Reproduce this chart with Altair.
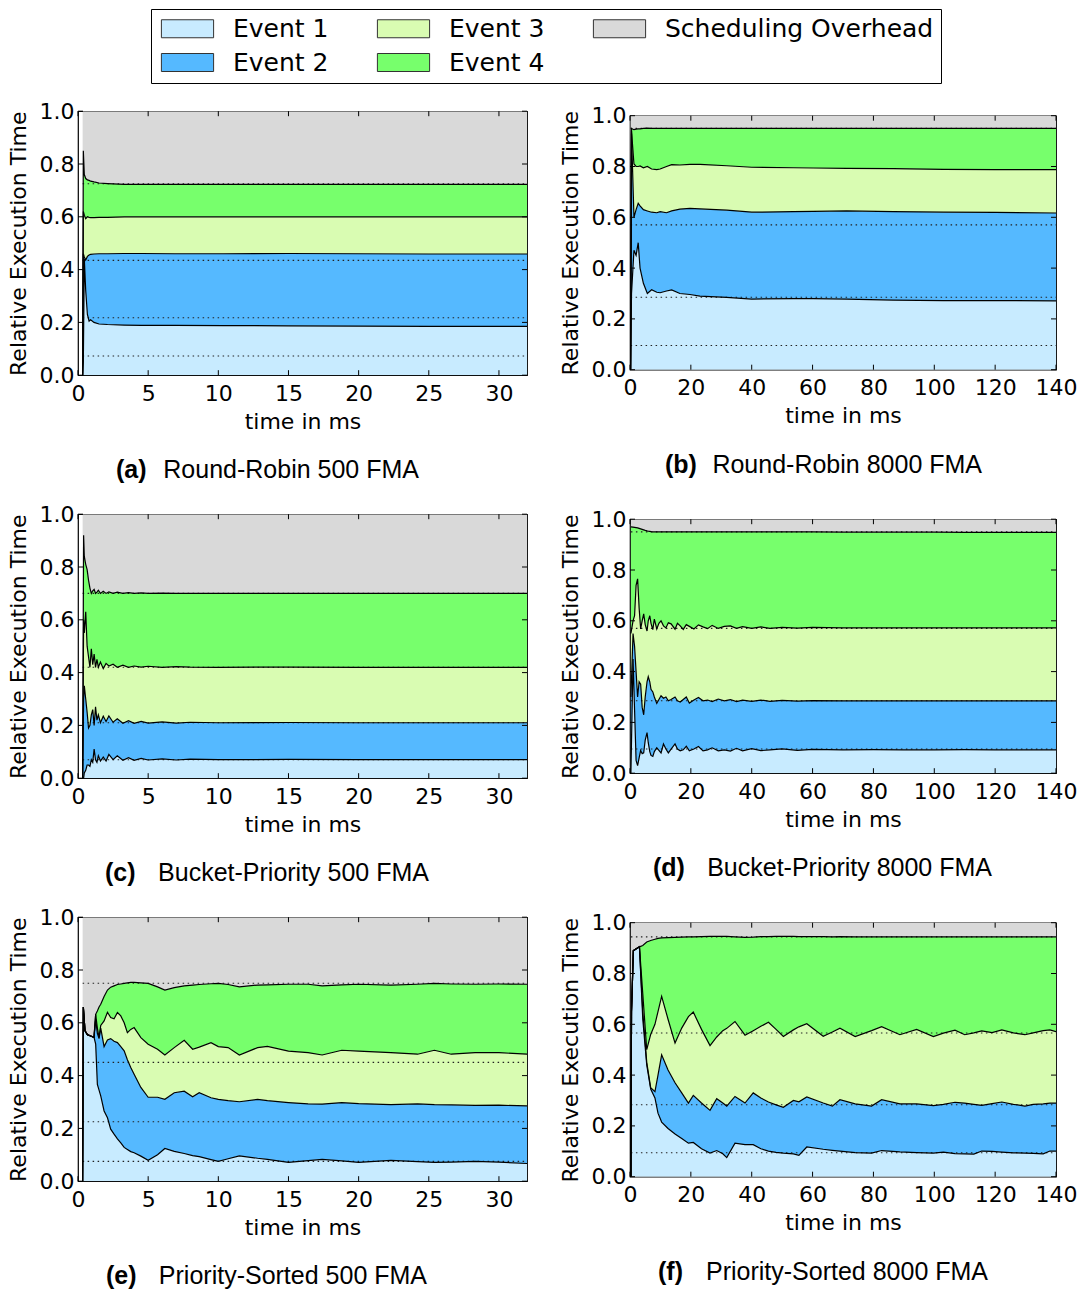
import altair as alt
import pandas as pd

# ---------------------------------------------------------------- layers
LAYERS = ["Event 1", "Event 2", "Event 3", "Event 4", "Scheduling Overhead"]
LAYER_COLORS = ["#C8EBFF", "#55B9FF", "#D9FCB2", "#77FF6C", "#D9D9D9"]

Y_TICKS = [0.0, 0.2, 0.4, 0.6, 0.8, 1.0]
X_TICKS_500 = [0, 5, 10, 15, 20, 25, 30]
X_TICKS_8000 = [0, 20, 40, 60, 80, 100, 120, 140]

# ------------------------------------------------ (a) Round-Robin 500 FMA
# cumulative upper edges of Event 1..4
A_T = [0.33, 0.38, 0.45, 0.55, 0.67, 0.79, 0.9, 1.14, 1.5, 2.1, 3.3, 4.5, 6.9, 10.4, 15, 20, 25, 32]
A_B1 = [0.0, 0.05, 0.44, 0.32, 0.23, 0.205, 0.21, 0.2, 0.194, 0.192, 0.19, 0.189, 0.189, 0.188, 0.187, 0.186, 0.185, 0.185]
A_B2 = [0.0, 0.46, 0.448, 0.436, 0.45, 0.455, 0.458, 0.459, 0.46, 0.46, 0.461, 0.461, 0.46, 0.46, 0.461, 0.46, 0.459, 0.459]
A_B3 = [0.0, 0.62, 0.606, 0.593, 0.6, 0.598, 0.597, 0.597, 0.598, 0.598, 0.6, 0.6, 0.6, 0.6, 0.6, 0.6, 0.6, 0.6]
A_B4 = [0.0, 0.85, 0.76, 0.745, 0.74, 0.738, 0.735, 0.732, 0.728, 0.726, 0.723, 0.723, 0.723, 0.723, 0.723, 0.723, 0.723, 0.723]
A_REF = [0.0725, 0.2175, 0.435, 0.725]

# ----------------------------------------------- (b) Round-Robin 8000 FMA
B_T = [0.2, 0.5, 1.3, 2.0, 2.7, 3.3, 4.4, 5.7, 7.1, 8.8, 9.9, 12, 13.7, 16.4, 19.7, 23, 31.8, 40, 53.7, 60.2, 71.2, 86.5, 103, 120, 140]
B_B1 = [0.0, 0.3, 0.47, 0.45, 0.50, 0.40, 0.34, 0.30, 0.315, 0.305, 0.303, 0.31, 0.314, 0.30, 0.296, 0.29, 0.285, 0.278, 0.28, 0.28, 0.278, 0.274, 0.272, 0.272, 0.271]
B_B2 = [0.0, 0.93, 0.60, 0.63, 0.655, 0.645, 0.63, 0.625, 0.62, 0.618, 0.622, 0.618, 0.625, 0.632, 0.635, 0.633, 0.628, 0.62, 0.622, 0.623, 0.625, 0.622, 0.62, 0.619, 0.617]
B_B3 = [0.0, 0.94, 0.81, 0.80, 0.80, 0.802, 0.795, 0.80, 0.79, 0.788, 0.79, 0.80, 0.807, 0.806, 0.808, 0.808, 0.803, 0.797, 0.795, 0.794, 0.793, 0.792, 0.789, 0.788, 0.788]
B_B4 = [0.0, 0.95, 0.945, 0.947, 0.948, 0.948, 0.95, 0.951, 0.95, 0.95, 0.95, 0.95, 0.95, 0.95, 0.95, 0.95, 0.95, 0.95, 0.95, 0.95, 0.95, 0.95, 0.95, 0.95, 0.95]
B_REF = [0.095, 0.285, 0.57, 0.95]

# --------------------------------------------- (c) Bucket-Priority 500 FMA
C_T = [0.33, 0.4, 0.45, 0.55, 0.65, 0.75, 0.85, 0.95, 1.05, 1.15, 1.25, 1.35, 1.45, 1.6, 1.8, 2.0,
       2.2, 2.5, 2.8, 3.2, 3.6, 4.0, 4.5, 5, 6, 7, 8, 10, 15, 20, 25, 32]
C_B1 = [0.0, 0.0, 0.02, 0.03, 0.05, 0.05, 0.045, 0.07, 0.06, 0.11, 0.07, 0.06, 0.085, 0.065, 0.08, 0.065,
        0.09, 0.07, 0.085, 0.068, 0.078, 0.068, 0.075, 0.069, 0.073, 0.069, 0.072, 0.07, 0.071, 0.07, 0.07, 0.07]
C_B2 = [0.0, 0.3, 0.35, 0.30, 0.25, 0.19, 0.2, 0.24, 0.26, 0.2, 0.27, 0.22, 0.24, 0.21, 0.235, 0.215,
        0.236, 0.212, 0.225, 0.208, 0.218, 0.208, 0.215, 0.209, 0.213, 0.209, 0.212, 0.21, 0.211, 0.21, 0.21, 0.21]
C_B3 = [0.0, 0.6, 0.55, 0.63, 0.50, 0.46, 0.42, 0.49, 0.43, 0.47, 0.42, 0.45, 0.42, 0.44, 0.415, 0.435,
        0.425, 0.432, 0.42, 0.428, 0.42, 0.425, 0.421, 0.424, 0.42, 0.423, 0.421, 0.42, 0.421, 0.42, 0.42, 0.42]
C_B4 = [0.0, 0.92, 0.84, 0.81, 0.79, 0.75, 0.72, 0.70, 0.71, 0.715, 0.70, 0.705, 0.712, 0.70, 0.708, 0.70,
        0.706, 0.70, 0.705, 0.70, 0.703, 0.70, 0.702, 0.70, 0.701, 0.70, 0.70, 0.70, 0.70, 0.70, 0.70, 0.70]
C_REF = [0.07, 0.21, 0.42, 0.70]

# -------------------------------------------- (d) Bucket-Priority 8000 FMA
D_T = [0.3, 1.0, 1.5, 2.0, 2.5, 3.0, 3.5, 4.0, 4.5, 5.0,
       5.6, 6.0, 6.5, 6.9, 7.5, 8.0, 8.8, 9.5, 10.2, 11.0,
       11.8, 12.6, 13.5, 14.8, 15.6, 16.5, 17.5, 18.5, 19.5, 21,
       22.5, 24, 25.5, 27, 29, 31, 33, 35, 37, 40,
       43, 46, 50, 55, 60, 70, 80, 90, 100, 110,
       120, 130, 140]
D_B1 = [0.0, 0.45, 0.25, 0.05, 0.03, 0.06, 0.09, 0.077, 0.08, 0.13,
        0.16, 0.12, 0.085, 0.07, 0.066, 0.085, 0.10, 0.09, 0.08, 0.115,
        0.095, 0.08, 0.095, 0.115, 0.095, 0.088, 0.092, 0.106, 0.088, 0.095,
        0.105, 0.088, 0.092, 0.1, 0.088, 0.092, 0.087, 0.098, 0.088, 0.097,
        0.089, 0.092, 0.096, 0.09, 0.094, 0.092, 0.093, 0.092, 0.092, 0.093,
        0.092, 0.092, 0.092]
D_B2 = [0.3, 0.55, 0.5, 0.40, 0.30, 0.36, 0.35, 0.26, 0.23, 0.30,
        0.36, 0.38, 0.36, 0.33, 0.32, 0.30, 0.275, 0.29, 0.305, 0.295,
        0.30, 0.285, 0.29, 0.30, 0.285, 0.28, 0.29, 0.30, 0.276, 0.288,
        0.298, 0.285, 0.288, 0.282, 0.292, 0.285, 0.29, 0.282, 0.288, 0.283,
        0.288, 0.283, 0.287, 0.284, 0.286, 0.285, 0.285, 0.285, 0.285, 0.285,
        0.285, 0.285, 0.285]
D_B3 = [0.55, 0.6, 0.62, 0.74, 0.765, 0.65, 0.568, 0.60, 0.627, 0.585,
        0.56, 0.6, 0.62, 0.59, 0.565, 0.607, 0.568, 0.59, 0.6, 0.58,
        0.572, 0.592, 0.588, 0.567, 0.59, 0.58, 0.566, 0.585, 0.578, 0.568,
        0.584, 0.576, 0.569, 0.582, 0.57, 0.578, 0.58, 0.57, 0.577, 0.57,
        0.576, 0.57, 0.574, 0.571, 0.574, 0.572, 0.572, 0.572, 0.572, 0.572,
        0.572, 0.572, 0.572]
D_B4 = [0.97, 0.969, 0.968, 0.967, 0.966, 0.964, 0.962, 0.96, 0.958, 0.956,
        0.954, 0.953, 0.952, 0.951, 0.95, 0.95, 0.95, 0.95, 0.95, 0.95,
        0.95, 0.95, 0.95, 0.95, 0.95, 0.95, 0.95, 0.95, 0.95, 0.95,
        0.95, 0.95, 0.95, 0.95, 0.95, 0.95, 0.95, 0.95, 0.95, 0.95,
        0.95, 0.95, 0.95, 0.95, 0.95, 0.949, 0.949, 0.949, 0.949, 0.948,
        0.948, 0.948, 0.948]
D_REF = [0.095, 0.285, 0.57, 0.95]

# ---------------------------------------------- (e) Priority-Sorted 500 FMA
E_T = [0.33, 0.38, 0.5, 0.67, 0.9, 1.14, 1.26, 1.38, 1.5, 1.62,
       1.86, 2.1, 2.33, 2.57, 2.81, 3.05, 3.29, 3.52, 3.76, 4.0,
       4.48, 5.0, 5.67, 6.19, 6.86, 7.57, 8.17, 8.64, 9.48, 10.0,
       10.7, 11.5, 12.8, 13.5, 15, 16.4, 17.4, 18.8, 20, 22.3,
       24.2, 25.4, 26.6, 28.3, 30, 32]
E_B1 = [0.0, 0.66, 0.57, 0.555, 0.55, 0.545, 0.519, 0.367, 0.345, 0.323,
        0.266, 0.24, 0.197, 0.178, 0.16, 0.145, 0.128, 0.12, 0.112, 0.108,
        0.095, 0.079, 0.1, 0.124, 0.113, 0.105, 0.097, 0.093, 0.082, 0.075,
        0.085, 0.096, 0.087, 0.083, 0.071, 0.078, 0.083, 0.077, 0.071, 0.079,
        0.074, 0.071, 0.072, 0.075, 0.072, 0.067]
E_B2 = [0.0, 0.66, 0.57, 0.555, 0.55, 0.545, 0.613, 0.56, 0.54, 0.58,
        0.51, 0.535, 0.54, 0.53, 0.525, 0.51, 0.494, 0.46, 0.431, 0.405,
        0.355, 0.318, 0.318, 0.31, 0.335, 0.341, 0.32, 0.335, 0.316, 0.31,
        0.305, 0.301, 0.31, 0.305, 0.298, 0.293, 0.292, 0.298, 0.294, 0.29,
        0.293, 0.29, 0.289, 0.287, 0.288, 0.285]
E_B3 = [0.0, 0.66, 0.57, 0.555, 0.55, 0.545, 0.632, 0.58, 0.545, 0.59,
        0.607, 0.64, 0.62, 0.615, 0.639, 0.626, 0.60, 0.563, 0.575, 0.582,
        0.544, 0.519, 0.5, 0.478, 0.506, 0.534, 0.5, 0.508, 0.525, 0.51,
        0.506, 0.478, 0.506, 0.511, 0.493, 0.487, 0.478, 0.496, 0.493, 0.487,
        0.481, 0.496, 0.481, 0.487, 0.487, 0.481]
E_B4 = [0.0, 0.66, 0.57, 0.555, 0.55, 0.545, 0.632, 0.645, 0.66, 0.67,
        0.70, 0.724, 0.735, 0.74, 0.745, 0.747, 0.749, 0.751, 0.753, 0.753,
        0.751, 0.749, 0.736, 0.724, 0.733, 0.74, 0.743, 0.745, 0.748, 0.749,
        0.745, 0.736, 0.743, 0.744, 0.746, 0.746, 0.74, 0.744, 0.746, 0.743,
        0.746, 0.749, 0.747, 0.746, 0.747, 0.746]
E_REF = [0.075, 0.225, 0.45, 0.75]

# --------------------------------------------- (f) Priority-Sorted 8000 FMA
F_T = [0.3, 0.5, 1.1, 2.2, 3.1, 4.2, 5.5, 6.8, 8.2, 9.2,
       10.4, 12.5, 14.8, 17, 19.2, 20.8, 23.5, 26.3, 28.5, 30.5,
       31.8, 34.5, 37.8, 40.5, 43, 45.5, 48, 50.4, 53.7, 55.5,
       58.1, 63.5, 66.5, 69, 74, 79.4, 82.7, 88.7, 94.2, 99.7,
       103, 106.8, 110, 113, 115.6, 119, 122.2, 126, 129.8, 132.5,
       135.8, 138, 140]
F_B1 = [0.0, 0.65, 0.89, 0.898, 0.905, 0.62, 0.44, 0.345, 0.31, 0.25,
        0.215, 0.19, 0.168, 0.15, 0.132, 0.135, 0.11, 0.093, 0.103, 0.09,
        0.075, 0.132, 0.126, 0.126, 0.11, 0.101, 0.096, 0.093, 0.09, 0.084,
        0.117, 0.108, 0.104, 0.101, 0.095, 0.093, 0.103, 0.098, 0.095, 0.093,
        0.097, 0.091, 0.09, 0.089, 0.101, 0.1, 0.097, 0.094, 0.093, 0.092,
        0.09, 0.101, 0.101]
F_B2 = [0.0, 0.65, 0.89, 0.898, 0.905, 0.65, 0.45, 0.35, 0.335, 0.40,
        0.48, 0.42, 0.37, 0.33, 0.29, 0.32, 0.29, 0.261, 0.307, 0.29,
        0.278, 0.316, 0.29, 0.33, 0.31, 0.294, 0.283, 0.273, 0.30, 0.295,
        0.314, 0.29, 0.278, 0.303, 0.287, 0.278, 0.303, 0.287, 0.287, 0.28,
        0.285, 0.293, 0.29, 0.285, 0.281, 0.288, 0.294, 0.285, 0.278, 0.285,
        0.287, 0.29, 0.29]
F_B3 = [0.0, 0.65, 0.89, 0.898, 0.905, 0.72, 0.5, 0.56, 0.60, 0.65,
        0.71, 0.62, 0.526, 0.585, 0.63, 0.648, 0.58, 0.516, 0.55, 0.575,
        0.584, 0.611, 0.557, 0.575, 0.592, 0.608, 0.58, 0.552, 0.578, 0.59,
        0.602, 0.553, 0.57, 0.585, 0.552, 0.575, 0.591, 0.559, 0.58, 0.552,
        0.565, 0.577, 0.559, 0.566, 0.574, 0.567, 0.578, 0.566, 0.559, 0.566,
        0.575, 0.578, 0.571]
F_B4 = [0.0, 0.65, 0.89, 0.898, 0.905, 0.91, 0.924, 0.93, 0.935, 0.938,
        0.94, 0.941, 0.942, 0.943, 0.944, 0.944, 0.945, 0.946, 0.946, 0.946,
        0.946, 0.944, 0.942, 0.943, 0.945, 0.945, 0.946, 0.946, 0.946, 0.945,
        0.945, 0.945, 0.944, 0.945, 0.944, 0.944, 0.944, 0.944, 0.944, 0.944,
        0.944, 0.944, 0.944, 0.944, 0.944, 0.944, 0.944, 0.944, 0.944, 0.944,
        0.944, 0.944, 0.944]
F_REF = [0.094, 0.283, 0.566, 0.944]

# -------------------------------------------------------------- styling
AXIS_FONT = "DejaVu Sans"
CAPTION_FONT = "Liberation Sans"
TICK_LEN = 5
LEFT_W, LEFT_H = 449, 264
RIGHT_W, RIGHT_H = 426, 254

PANELS = {
    "a": dict(title="Round-Robin 500 FMA", t=A_T, b=[A_B1, A_B2, A_B3, A_B4], ref=A_REF,
              xmax=32, xticks=X_TICKS_500, w=LEFT_W, h=LEFT_H, cap=(38, 341)),
    "b": dict(title="Round-Robin 8000 FMA", t=B_T, b=[B_B1, B_B2, B_B3, B_B4], ref=B_REF,
              xmax=140, xticks=X_TICKS_8000, w=RIGHT_W, h=RIGHT_H, cap=(35, 352)),
    "c": dict(title="Bucket-Priority 500 FMA", t=C_T, b=[C_B1, C_B2, C_B3, C_B4], ref=C_REF,
              xmax=32, xticks=X_TICKS_500, w=LEFT_W, h=LEFT_H, cap=(27, 351)),
    "d": dict(title="Bucket-Priority 8000 FMA", t=D_T, b=[D_B1, D_B2, D_B3, D_B4], ref=D_REF,
              xmax=140, xticks=X_TICKS_8000, w=RIGHT_W, h=RIGHT_H, cap=(23, 362)),
    "e": dict(title="Priority-Sorted 500 FMA", t=E_T, b=[E_B1, E_B2, E_B3, E_B4], ref=E_REF,
              xmax=32, xticks=X_TICKS_500, w=LEFT_W, h=LEFT_H, cap=(28, 349)),
    "f": dict(title="Priority-Sorted 8000 FMA", t=F_T, b=[F_B1, F_B2, F_B3, F_B4], ref=F_REF,
              xmax=140, xticks=X_TICKS_8000, w=RIGHT_W, h=RIGHT_H, cap=(28, 358)),
}

# wide swatch: drawn 52 x 18 px while the legend lays entries out on an 18 px box
SWATCH = "M-2.9,-1H2.9V1H-2.9Z"

LEGEND = alt.Legend(
    title=None,
    orient="none",
    legendX=73,
    legendY=-102,
    columns=3,
    symbolType=SWATCH,
    symbolSize=324,
    symbolOffset=17,
    symbolStrokeColor="#333333",
    symbolStrokeWidth=1,
    symbolOpacity=1,
    labelFont=AXIS_FONT,
    labelFontSize=25,
    labelColor="black",
    labelOffset=33,
    labelLimit=400,
    columnPadding=45,
    rowPadding=8,
    padding=7,
    strokeColor="black",
    fillColor="white",
    cornerRadius=0,
)

COLOR_SCALE = alt.Scale(domain=LAYERS, range=LAYER_COLORS)


def area_frame(t, b):
    rows = []
    for i, ti in enumerate(t):
        edges = [0.0, b[0][i], b[1][i], b[2][i], b[3][i], 1.0]
        for k, name in enumerate(LAYERS):
            rows.append({"t": ti, "layer": name, "lo": edges[k], "hi": edges[k + 1]})
    return pd.DataFrame(rows)


def edge_frame(t, b):
    rows = []
    for k in range(4):
        for i, ti in enumerate(t):
            rows.append({"t": ti, "edge": k, "v": b[k][i]})
    return pd.DataFrame(rows)


def panel(key):
    p = PANELS[key]
    W, H = p["w"], p["h"]
    xs = alt.Scale(domain=[0, p["xmax"]], nice=False, zero=False)
    ys = alt.Scale(domain=[0, 1], nice=False)
    x_axis = alt.Axis(values=p["xticks"], format="d", title="time in ms",
                      labelFlush=False, labelOverlap=False)
    y_axis = alt.Axis(values=Y_TICKS, format=".1f", title="Relative Execution Time",
                      labelOverlap=False)

    def X(field):
        return alt.X(field, scale=xs, axis=x_axis)

    def Y(field):
        return alt.Y(field, scale=ys, axis=y_axis)

    areas = alt.Chart(area_frame(p["t"], p["b"])).mark_area(
        interpolate="linear", opacity=1, clip=True
    ).encode(
        x=X("t:Q"),
        y=Y("lo:Q"),
        y2="hi:Q",
        color=alt.Color("layer:N", scale=COLOR_SCALE, legend=LEGEND),
    )

    ref_df = pd.DataFrame({"v": p["ref"], "x0": p["t"][0], "x1": p["xmax"]})
    dotted = alt.Chart(ref_df).mark_rule(
        color="#222222", strokeDash=[1.5, 3.5], strokeWidth=1.1
    ).encode(x=X("x0:Q"), x2="x1:Q", y=Y("v:Q"))

    edges = alt.Chart(edge_frame(p["t"], p["b"])).mark_line(
        color="black", strokeWidth=1.2, interpolate="linear", clip=True
    ).encode(x=X("t:Q"), y=Y("v:Q"), detail="edge:N")

    xt = pd.DataFrame({"v": p["xticks"]})
    yt = pd.DataFrame({"v": Y_TICKS})
    tick_rule = dict(color="black", strokeWidth=1)
    ticks_bottom = alt.Chart(xt).mark_rule(**tick_rule).encode(
        x=X("v:Q"), y=alt.value(H - TICK_LEN), y2=alt.value(H))
    ticks_top = alt.Chart(xt).mark_rule(**tick_rule).encode(
        x=X("v:Q"), y=alt.value(0), y2=alt.value(TICK_LEN))
    ticks_left = alt.Chart(yt).mark_rule(**tick_rule).encode(
        y=Y("v:Q"), x=alt.value(0), x2=alt.value(TICK_LEN))
    ticks_right = alt.Chart(yt).mark_rule(**tick_rule).encode(
        y=Y("v:Q"), x=alt.value(W - TICK_LEN), x2=alt.value(W))

    cap_df = pd.DataFrame({"tag": [f"({key})"], "name": [p["title"]]})
    cap_left, cap_right = p["cap"]
    cap_tag = alt.Chart(cap_df).mark_text(
        font=CAPTION_FONT, fontSize=25, fontWeight="bold", align="left", baseline="middle", color="black"
    ).encode(text="tag:N", x=alt.value(cap_left), y=alt.value(H + 95))
    cap_name = alt.Chart(cap_df).mark_text(
        font=CAPTION_FONT, fontSize=25, align="right", baseline="middle", color="black"
    ).encode(text="name:N", x=alt.value(cap_right), y=alt.value(H + 95))

    return alt.layer(
        areas, dotted, edges, ticks_bottom, ticks_top, ticks_left, ticks_right, cap_tag, cap_name
    ).properties(width=W, height=H)


left = alt.vconcat(panel("a"), panel("c"), panel("e"), spacing=18)
right = alt.vconcat(panel("b"), panel("d"), panel("f"), spacing=28.5)

chart = alt.hconcat(left, right, spacing=29, center=True).properties(
    padding={"left": 6, "top": 8, "right": 4, "bottom": 4}
).configure_view(
    stroke="black", strokeWidth=1.2
).configure_axis(
    labelFont=AXIS_FONT, labelFontSize=22, labelColor="black",
    titleFont=AXIS_FONT, titleFontSize=22, titleFontWeight="normal", titleColor="black",
    domain=False, ticks=False, grid=False, labelPadding=4,
).configure_axisX(
    labelPadding=8, titlePadding=7
).configure_axisY(
    titlePadding=9
)

chart.save("out.html", embed_options={"renderer": "svg", "actions": False})
